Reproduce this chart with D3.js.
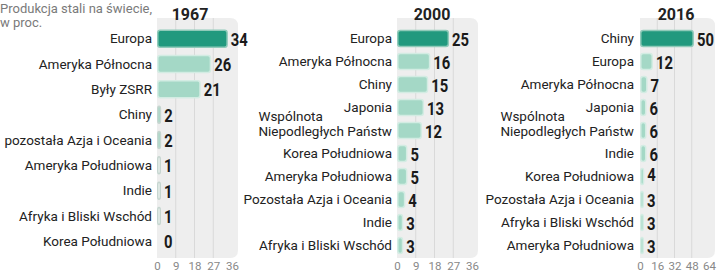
<!DOCTYPE html>
<html>
<head>
<meta charset="utf-8">
<script src="https://cdn.jsdelivr.net/npm/d3@7/dist/d3.min.js"></script>
<style>
body { margin: 0; background: #ffffff; }
svg { display: block; }
</style>
</head>
<body>
<svg id="chart" width="720" height="277"></svg>
<script>
// data
var categories_1967 = ["Europa", "Ameryka Północna", "Były ZSRR", "Chiny", "pozostała Azja i Oceania", "Ameryka Południowa", "Indie", "Afryka i Bliski Wschód", "Korea Południowa"];
var values_1967 = [34, 26, 21, 2, 2, 1, 1, 1, 0];

var categories_2000 = ["Europa", "Ameryka Północna", "Chiny", "Japonia", "Wspólnota|Niepodległych Państw", "Korea Południowa", "Ameryka Południowa", "Pozostała Azja i Oceania", "Indie", "Afryka i Bliski Wschód"];
var values_2000 = [25, 16, 15, 13, 12, 5, 5, 4, 3, 3];

var categories_2016 = ["Chiny", "Europa", "Ameryka Północna", "Japonia", "Wspólnota|Niepodległych Państw", "Indie", "Korea Południowa", "Pozostała Azja i Oceania", "Afryka i Bliski Wschód", "Ameryka Południowa"];
var values_2016 = [50, 12, 7, 6, 6, 6, 4, 3, 3, 3];

var ticks_1967 = [0, 9, 18, 27, 36];
var ticks_2000 = [0, 9, 18, 27, 36];
var ticks_2016 = [0, 16, 32, 48, 64];

var years = ["1967", "2000", "2016"];

var svg = d3.select("#chart");

var label_font = "Roboto, 'Noto Sans', sans-serif";
var label_size = "13.5px";

// subtitle
svg.append("text").attr("x", 0).attr("y", 13)
    .style("font-family", label_font).style("font-size", "13px").style("fill", "#7a7a7a")
    .text("Produkcja stali na świecie,");
svg.append("text").attr("x", 0).attr("y", 27)
    .style("font-family", label_font).style("font-size", "13px").style("fill", "#7a7a7a")
    .text("w proc.");

function draw_panel(p_title, p_categories, p_values, p_ticks, p_layout)
{
    var x = d3.scaleLinear()
        .domain([0, p_ticks[p_ticks.length - 1]])
        .range([p_layout.x0, p_layout.x1]);

    var y = d3.scaleBand()
        .domain(p_categories)
        .range([p_layout.y0, p_layout.y1]);

    var g = svg.append("g");

    // grey plot background, rounded on the right
    var bx0 = p_layout.x0, bx1 = p_layout.bg_right, by0 = 18, by1 = 258, r = 8;
    g.append("path")
        .attr("d", "M" + bx0 + "," + by0 + " L" + (bx1 - r) + "," + by0 +
            " Q" + bx1 + "," + by0 + " " + bx1 + "," + (by0 + r) +
            " L" + bx1 + "," + (by1 - r) +
            " Q" + bx1 + "," + by1 + " " + (bx1 - r) + "," + by1 +
            " L" + bx0 + "," + by1 + " Z")
        .style("fill", "#eeeeee");

    // grid lines
    g.selectAll("line.grid")
        .data(p_ticks.slice(1, p_ticks.length - 1))
        .enter().append("line")
        .attr("class", "grid")
        .attr("x1", function(d) { return x(d); })
        .attr("x2", function(d) { return x(d); })
        .attr("y1", by0)
        .attr("y2", by1)
        .style("stroke", "#d9d9d9")
        .style("stroke-width", 1);

    // x axis
    var axis = d3.axisBottom(x).tickValues(p_ticks).tickSize(0).tickPadding(0);
    var ax = g.append("g").attr("transform", "translate(0,262)").call(axis);
    ax.select(".domain").remove();
    ax.selectAll("text")
        .style("font-family", label_font)
        .style("font-size", "11.5px")
        .style("fill", "#888")
        .attr("dy", "0.71em");

    // title
    g.append("text")
        .attr("x", p_layout.title_x)
        .attr("y", 20)
        .attr("text-anchor", "middle")
        .style("font-family", label_font)
        .style("font-weight", "bold")
        .style("font-size", "16px")
        .style("fill", "#222")
        .text(p_title);

    var bar_h = p_layout.bar_h;

    for(var i = 0; i < p_categories.length; i++)
    {
        var cat = p_categories[i];
        var val = p_values[i];
        var cy = y(cat) + y.bandwidth() / 2;

        // category label (two lines when split by |)
        var parts = cat.split("|");
        if(parts.length == 1)
        {
            g.append("text")
                .attr("x", p_layout.label_x)
                .attr("y", cy)
                .attr("dy", "0.35em")
                .attr("text-anchor", "end")
                .style("font-family", label_font)
                .style("font-size", label_size)
                .style("fill", "#222")
                .text(cat);
        }
        else
        {
            var second = g.append("text")
                .attr("x", p_layout.label_x)
                .attr("y", cy + 1)
                .attr("dy", "0.35em")
                .attr("text-anchor", "end")
                .style("font-family", label_font)
                .style("font-size", label_size)
                .style("fill", "#222")
                .text(parts[1]);
            var w = second.node().getComputedTextLength();
            g.append("text")
                .attr("x", p_layout.label_x - w)
                .attr("y", cy - 14.5)
                .attr("dy", "0.35em")
                .style("font-family", label_font)
                .style("font-size", label_size)
                .style("fill", "#222")
                .text(parts[0]);
        }

        // bar
        if(val > 0)
        {
            var bw = Math.max(x(val) - x(0), 4);
            g.append("rect")
                .attr("x", x(0) + 0.75)
                .attr("y", cy - bar_h / 2)
                .attr("width", bw - 1.5)
                .attr("height", bar_h)
                .attr("rx", 2.5)
                .style("fill", i == 0 ? "#21997e" : (val > 1 ? "#a4d8c6" : "#f4f8f6"))
                .style("stroke", i == 0 ? "#8fcab9" : (val > 2 ? "#d3ece3" : "#c6d6d0"))
                .style("stroke-width", 1.5);
        }

        // value label, bold and narrowed
        var vx = x(0) + Math.max(x(val) - x(0), 4) + 3;
        var vy = cy + 7;
        if(p_title == "2016" && cat == "Korea Południowa")
        {
            vy = cy + 4;
        }
        g.append("text")
            .attr("transform", "translate(" + vx + "," + vy + ") scale(0.78,1)")
            .style("font-family", label_font)
            .style("font-weight", "bold")
            .style("font-size", "19px")
            .style("fill", "#1a1a1a")
            .text(val);
    }
}

draw_panel(years[0], categories_1967, values_1967, ticks_1967,
    { x0: 157, x1: 232, bg_right: 238, y0: 26, y1: 254, bar_h: 17, label_x: 152, title_x: 190 });
draw_panel(years[1], categories_2000, values_2000, ticks_2000,
    { x0: 397, x1: 472, bg_right: 478, y0: 27, y1: 257, bar_h: 16, label_x: 392, title_x: 432 });
draw_panel(years[2], categories_2016, values_2016, ticks_2016,
    { x0: 640, x1: 709, bg_right: 715, y0: 27, y1: 257, bar_h: 16, label_x: 634, title_x: 676 });
</script>
</body>
</html>
